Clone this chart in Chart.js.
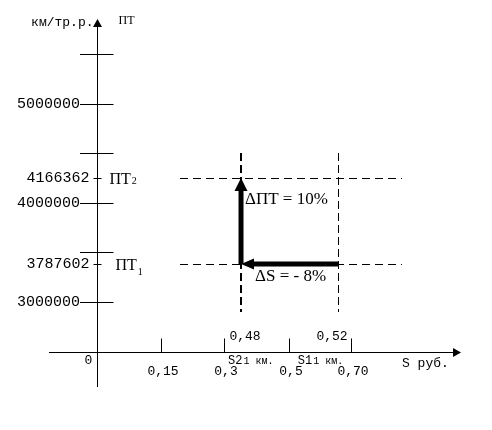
<!DOCTYPE html>
<html><head><meta charset="utf-8">
<script src="https://cdn.jsdelivr.net/npm/chart.js@4.4.1/dist/chart.umd.min.js"></script>
<style>html,body{margin:0;padding:0;background:#fff}#wrap{width:492px;height:430px;position:relative}</style>
</head><body><div id="wrap"><canvas id="c"></canvas></div>
<script>
// ---------- data ----------
const sTickValues  = [0.15, 0.3, 0.5, 0.70];
const sTickLabels  = ['0,15', '0,3', '0,5', '0,70'];
const ptTickValues = [3000000, 4000000, 5000000];
const ptTickLabels = ['3000000', '4000000', '5000000'];
const ptLevels     = [3787602, 4166362];          // ПТ1, ПТ2
const ptLevelSubs  = ['1', '2'];
const sLevels      = [0.52, 0.48];                // S1, S2
const sLevelLabels = ['0,52', '0,48'];
const sLevelSubs   = ['1', '2'];
const deltaPT = 10;   // %
const deltaS  = -8;   // %
const xTitle = 'S руб.';
const yTitleLeft = 'км/тр.р.';
const yTitleRight = 'ПТ';

// ---------- schematic (non-proportional) axis layout ----------
const layouts = {
  x: { values: [0, 0.15, 0.3, 0.48, 0.5, 0.52, 0.70], units: [0, 1, 2, 2.268, 3.02, 3.795, 4] },
  y: { values: [3000000, 3787602, 4000000, 4166362, 5000000], units: [0, 0.766, 2, 2.5, 4] }
};
function interp(xs, ys, v) {
  const n = xs.length; let i = 0;
  if (v <= xs[0]) i = 0; else if (v >= xs[n - 1]) i = n - 2; else { while (v > xs[i + 1]) i++; }
  return ys[i] + (v - xs[i]) * (ys[i + 1] - ys[i]) / (xs[i + 1] - xs[i]);
}
class SchematicScale extends Chart.LinearScale {
  toUnit(v) { const L = layouts[this.axis]; return interp(L.values, L.units, v); }
  fromUnit(u) { const L = layouts[this.axis]; return interp(L.units, L.values, u); }
  getPixelForUnit(u) { return super.getPixelForValue(u); }
  getPixelForValue(v) { return (v === null || v === undefined) ? NaN : this.getPixelForUnit(this.toUnit(v)); }
  getValueForPixel(p) { return this.fromUnit(super.getValueForPixel(p)); }
}
SchematicScale.id = 'schematic';
SchematicScale.defaults = Chart.LinearScale.defaults;
Chart.register(SchematicScale);

const MONO = '"Liberation Mono", "DejaVu Sans Mono", monospace';
const SERIF = '"Liberation Serif", "DejaVu Serif", serif';
const INK = '#000';

function seg(ctx, x1, y1, x2, y2) { ctx.beginPath(); ctx.moveTo(x1, y1); ctx.lineTo(x2, y2); ctx.stroke(); }
function txt(ctx, s, x, y, font, align, base) {
  ctx.font = font; ctx.textAlign = align || 'left'; ctx.textBaseline = base || 'middle'; ctx.fillText(s, x, y);
}
function tri(ctx, a, b, c) { ctx.beginPath(); ctx.moveTo(a[0], a[1]); ctx.lineTo(b[0], b[1]); ctx.lineTo(c[0], c[1]); ctx.closePath(); ctx.fill(); }
const px = v => Math.round(v) + 0.5;

function headGeom(meta, len, half) {
  const p = meta.data; const a = p[p.length - 2], b = p[p.length - 1];
  const dx = b.x - a.x, dy = b.y - a.y, d = Math.hypot(dx, dy) || 1;
  const ux = dx / d, uy = dy / d, nx = -uy, ny = ux;
  return { tip: [b.x, b.y], bx: b.x - ux * len, by: b.y - uy * len, ux, uy, nx, ny, half };
}

const schematicPlugin = {
  id: 'schematicDraw',
  beforeDatasetsDraw(chart) {
    const { ctx, scales: { x, y } } = chart;
    const [s1, s2] = sLevels.map(v => x.getPixelForValue(v));
    const [p1, p2] = ptLevels.map(v => y.getPixelForValue(v));
    ctx.save(); ctx.strokeStyle = INK;
    ctx.lineWidth = 1; ctx.setLineDash([8, 5]);
    [p1, p2].forEach(yy => seg(ctx, s2 - 61, px(yy), s1 + 64, px(yy)));
    ctx.setLineDash([8, 4]);
    ctx.lineWidth = 2; seg(ctx, Math.round(s2), p2 - 25, Math.round(s2), p1 + 48);
    ctx.lineWidth = 1; seg(ctx, px(s1), p2 - 25, px(s1), p1 + 48);
    ctx.restore();
  },
  beforeDatasetDraw(chart, args) {
    const ds = chart.data.datasets[args.index];
    if (!ds.head) return;
    const g = headGeom(args.meta, ds.head[0] - 1, ds.head[1]);
    const { ctx } = chart;
    ctx.save();
    ctx.beginPath();
    ctx.rect(0, 0, chart.width, chart.height);
    const w = 20, f = 10;
    ctx.moveTo(g.bx + g.nx * w, g.by + g.ny * w);
    ctx.lineTo(g.bx - g.nx * w, g.by - g.ny * w);
    ctx.lineTo(g.tip[0] + g.ux * f - g.nx * w, g.tip[1] + g.uy * f - g.ny * w);
    ctx.lineTo(g.tip[0] + g.ux * f + g.nx * w, g.tip[1] + g.uy * f + g.ny * w);
    ctx.closePath();
    ctx.clip('evenodd');
  },
  afterDatasetDraw(chart, args) {
    const ds = chart.data.datasets[args.index];
    if (!ds.head) return;
    const { ctx } = chart;
    ctx.restore();
    const g = headGeom(args.meta, ds.head[0], ds.head[1]);
    ctx.save(); ctx.fillStyle = INK;
    tri(ctx, g.tip, [g.bx + g.nx * g.half, g.by + g.ny * g.half], [g.bx - g.nx * g.half, g.by - g.ny * g.half]);
    ctx.restore();
  },
  afterDatasetsDraw(chart) {
    const { ctx, scales: { x, y } } = chart;
    const ax = px(x.getPixelForValue(0));
    const ay = px(y.getPixelForUnit(-1.008));
    ctx.save();
    ctx.strokeStyle = INK; ctx.fillStyle = INK; ctx.lineWidth = 1; ctx.setLineDash([]);
    // axes
    const yTop = y.getPixelForUnit(5.685), yBot = y.getPixelForUnit(-1.714);
    const xLeft = x.getPixelForUnit(-0.756), xRight = x.getPixelForUnit(5.717);
    seg(ctx, ax, yTop + 6, ax, yBot);
    tri(ctx, [ax, yTop - 1], [ax - 4.5, yTop + 7], [ax + 4.5, yTop + 7]);
    seg(ctx, xLeft, ay, xRight - 6, ay);
    tri(ctx, [xRight + 1, ay], [xRight - 7, ay - 4.5], [xRight - 7, ay + 4.5]);
    // long y ticks (evenly spaced schematic ticks)
    for (let u = 0; u <= 5; u++) { const yy = px(y.getPixelForUnit(u)); seg(ctx, ax - 17.5, yy, ax + 16, yy); }
    ptTickValues.forEach((v, i) => {
      txt(ctx, ptTickLabels[i], ax - 17.5, y.getPixelForValue(v) + 0.5, '15px ' + MONO, 'right');
    });
    // PT levels: short ticks, values and names
    const nameOff = [18, 12];
    const subDrop = [5, 0];
    ptLevels.forEach((v, i) => {
      const yy = y.getPixelForValue(v);
      seg(ctx, ax - 4, px(yy), ax + 4, px(yy));
      txt(ctx, String(v), ax - 8, yy + 0.5, '15px ' + MONO, 'right');
      ctx.font = '16px ' + SERIF;
      const base = yy + 6;
      txt(ctx, 'ПТ', ax + nameOff[i], base, '16px ' + SERIF, 'left', 'alphabetic');
      const w = ctx.measureText('ПТ').width;
      txt(ctx, ptLevelSubs[i], ax + nameOff[i] + w + 1, base + subDrop[i], '10px ' + SERIF, 'left', 'alphabetic');
    });
    // x ticks and labels
    sTickValues.forEach((v, i) => {
      const xx = px(x.getPixelForValue(v));
      seg(ctx, xx, ay - 14, xx, ay);
      txt(ctx, sTickLabels[i], xx + 1.5, ay + 19, '13px ' + MONO, 'center');
    });
    txt(ctx, '0', ax - 9, ay + 8, '13px ' + MONO, 'center');
    // S levels values above axis
    const sOff = [-6, 4];
    sLevels.forEach((v, i) => {
      txt(ctx, sLevelLabels[i], x.getPixelForValue(v) + sOff[i], ay - 16, '13px ' + MONO, 'center');
    });
    // S level names under axis (S1 between 0,5 and 0,70; S2 between 0,3 and 0,5)
    const nameAnchor = [x.getPixelForValue(0.5) + 9, x.getPixelForValue(0.3) + 4];
    sLevels.forEach((v, i) => {
      const x0 = nameAnchor[i];
      txt(ctx, 'S' + sLevelSubs[i], x0, ay + 11, '12px ' + MONO, 'left', 'alphabetic');
      ctx.font = '12px ' + MONO;
      const w = ctx.measureText('S' + sLevelSubs[i]).width;
      txt(ctx, '1 км.', x0 + w + 1, ay + 11, '10px ' + MONO, 'left', 'alphabetic');
    });
    // axis titles
    txt(ctx, xTitle, x.getPixelForValue(0.70) + 51, ay + 11, '13px ' + MONO, 'left');
    txt(ctx, yTitleLeft, ax - 4, yTop + 3, '13px ' + MONO, 'right');
    txt(ctx, yTitleRight, ax + 21, yTop + 1, '12px ' + SERIF, 'left');
    // change annotations
    const s2 = x.getPixelForValue(sLevels[1]);
    const p1 = y.getPixelForValue(ptLevels[0]), p2 = y.getPixelForValue(ptLevels[1]);
    txt(ctx, 'ΔПТ = ' + deltaPT + '%', s2 + 4, p2 + 22, '17px ' + SERIF, 'left');
    txt(ctx, 'ΔS = ' + (deltaS < 0 ? '- ' : '') + Math.abs(deltaS) + '%', s2 + 14, p1 + 13, '17px ' + SERIF, 'left');
    ctx.restore();
  }
};

new Chart(document.getElementById('c'), {
  type: 'scatter',
  data: {
    datasets: [
      { label: 'ΔПТ', data: [{ x: sLevels[1], y: ptLevels[0] }, { x: sLevels[1], y: ptLevels[1] }],
        showLine: true, borderColor: INK, borderWidth: 5, pointRadius: 0, borderCapStyle: 'butt', head: [13, 6.5] },
      { label: 'ΔS', data: [{ x: sLevels[0], y: ptLevels[0] }, { x: sLevels[1], y: ptLevels[0] }],
        showLine: true, borderColor: INK, borderWidth: 5, pointRadius: 0, borderCapStyle: 'butt', head: [13, 5.5] }
    ]
  },
  options: {
    animation: false, responsive: true, maintainAspectRatio: false,
    layout: { padding: 0, autoPadding: false },
    plugins: { legend: { display: false }, tooltip: { enabled: false } },
    events: [],
    scales: {
      x: { type: 'schematic', display: false, bounds: 'data', min: -97 / 63.5, max: (492 - 97) / 63.5 },
      y: { type: 'schematic', display: false, bounds: 'data', min: -(430 - 302) / 49.6, max: 302 / 49.6 }
    }
  },
  plugins: [schematicPlugin]
});
</script>
</body></html>
